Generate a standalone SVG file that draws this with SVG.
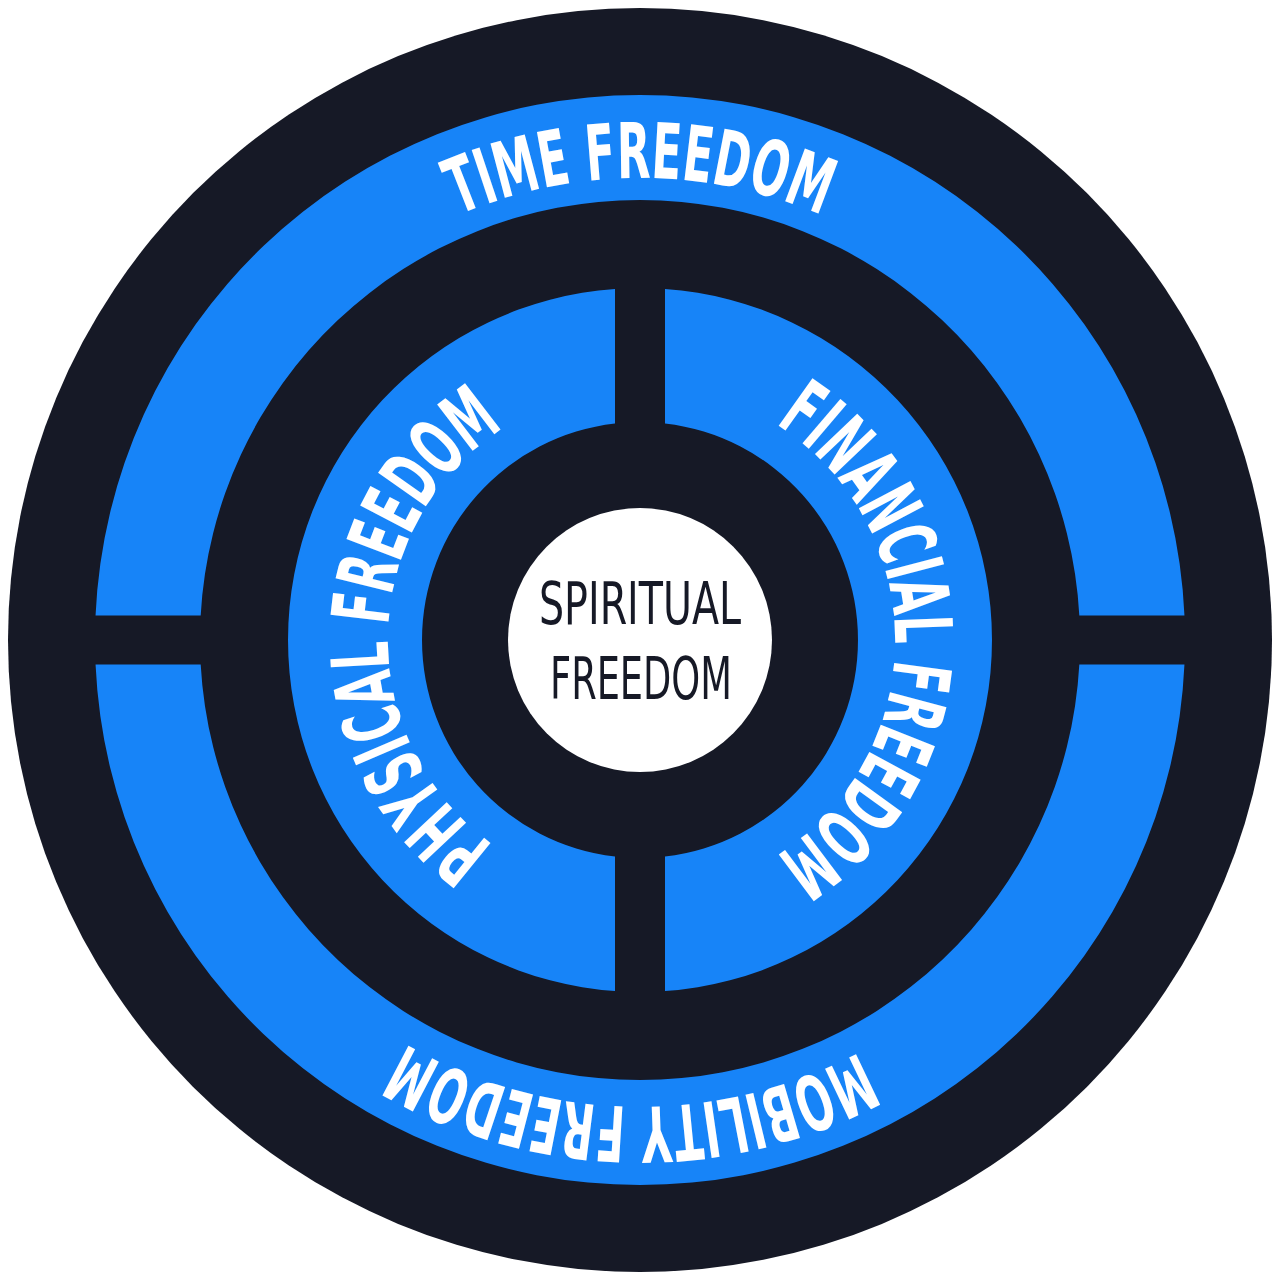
<svg xmlns="http://www.w3.org/2000/svg" width="1280" height="1280" viewBox="0 0 1280 1280">
<style>
.dark{fill:#161926}
.blue{fill:#1784f8}
.white{fill:#ffffff}
.arc{font-family:"DejaVu Sans Condensed","DejaVu Sans","Liberation Sans",sans-serif;font-stretch:condensed;font-weight:bold;fill:#ffffff}
.ctr{font-family:"DejaVu Sans Condensed","DejaVu Sans","Liberation Sans",sans-serif;font-stretch:condensed;font-weight:normal;fill:#161926;font-size:58px}
</style>
<defs>
<path id="pTop" d="M 178,640 A 462 462 0 0 1 1102,640" fill="none"/>
<path id="pBottom" d="M 1107,640 A 467 467 0 0 1 173,640" fill="none"/>
<path id="pLeft" d="M 640,892 A 252 252 0 0 1 640,388" fill="none"/>
<path id="pRight" d="M 640,385 A 255 255 0 0 1 640,895" fill="none"/>
</defs>
<rect width="1280" height="1280" fill="#ffffff"/>
<circle id="base" class="dark" cx="640" cy="640" r="632"/>
<g id="time-freedom">
<path class="blue" d="M 95.55,615.5 A 545 545 0 0 1 1184.45,615.5 L 1079.32,615.5 A 440 440 0 0 0 200.68,615.5 Z"/>
<text class="arc" font-size="77"><textPath href="#pTop" startOffset="50%" text-anchor="middle" textLength="374" lengthAdjust="spacingAndGlyphs">TIME FREEDOM</textPath></text>
</g>
<g id="mobility-freedom">
<path class="blue" d="M 95.55,664.5 L 200.68,664.5 A 440 440 0 0 0 1079.32,664.5 L 1184.45,664.5 A 545 545 0 0 1 95.55,664.5 Z"/>
<text class="arc" font-size="77"><textPath href="#pBottom" startOffset="50.6%" text-anchor="middle" textLength="474" lengthAdjust="spacingAndGlyphs">MOBILITY FREEDOM</textPath></text>
</g>
<g id="physical-freedom">
<path class="blue" d="M 615,288.89 L 615,423.44 A 218 218 0 0 0 615,856.56 L 615,991.11 A 352 352 0 0 1 615,288.89 Z"/>
<text class="arc" font-size="80"><textPath href="#pLeft" startOffset="50.8%" text-anchor="middle" textLength="492" lengthAdjust="spacingAndGlyphs">PHYSICAL FREEDOM</textPath></text>
</g>
<g id="financial-freedom">
<path class="blue" d="M 665,288.89 A 352 352 0 0 1 665,991.11 L 665,856.56 A 218 218 0 0 0 665,423.44 Z"/>
<text class="arc" font-size="80"><textPath href="#pRight" startOffset="50%" text-anchor="middle" textLength="516" lengthAdjust="spacingAndGlyphs">FINANCIAL FREEDOM</textPath></text>
</g>
<g id="spiritual-freedom">
<circle class="white" cx="640" cy="640" r="132"/>
<text class="ctr" transform="translate(539,624) scale(0.73,1)" x="0" y="0" textLength="276.7" lengthAdjust="spacingAndGlyphs">SPIRITUAL</text>
<text class="ctr" transform="translate(550,699) scale(0.73,1)" x="0" y="0" textLength="249.3" lengthAdjust="spacingAndGlyphs">FREEDOM</text>
</g>
</svg>
